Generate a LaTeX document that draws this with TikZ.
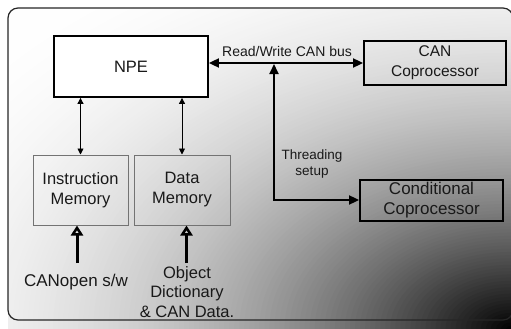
\documentclass[tikz,border=0pt]{standalone}
\usepackage{fontspec}
\setmainfont{Liberation Sans}
\usetikzlibrary{arrows.meta}
\begin{document}
\begin{tikzpicture}[x=1pt,y=-1pt,
  thickbox/.style={draw=black,line width=1.8pt,inner sep=0pt,align=center,text=black!90},
  membox/.style={draw=black!55,line width=1pt,inner sep=0pt,align=center,text=black!90,
    minimum height=70pt,font=\fontsize{16.5}{20}\selectfont},
  lbl/.style={align=center,inner sep=0pt,text=black!90},
  thin arr/.style={line width=0.9pt,{Triangle[length=6pt,width=6pt]}-{Triangle[length=6pt,width=6pt]}},
  bus arr/.style={line width=1.8pt,{Triangle[length=10pt,width=9pt]}-{Triangle[length=10pt,width=9pt]}},
  big arr/.style={line width=3pt,-{Triangle[open,length=10pt,width=12pt]}}]
\useasboundingbox (0,0) rectangle (511,329);
\coordinate (bgc) at (511,329);
\begin{scope}
  \clip[rounded corners=10pt] (8,8) rectangle (513,340);
  \fill[white] (8,8) rectangle (513,340);
  \foreach \i in {140,139,...,1} {
    \pgfmathsetmacro\e{\i/100}
    \pgfmathtruncatemacro\g{255*(1-(max(0.0001,1-\e/1.41))^2.2)}
    \pgfmathsetmacro\rx{503*\e}
    \pgfmathsetmacro\ry{321*\e}
    \definecolor{ringcol}{RGB}{\g,\g,\g}
    \fill[ringcol] (bgc) ellipse[x radius=\rx pt, y radius=\ry pt];
  }
\end{scope}
\draw[line width=1.2pt,black!85,rounded corners=10pt] (8,8) rectangle (513,320);
% boxes
\node[thickbox,fill=white,minimum width=154pt,minimum height=61pt,font=\fontsize{16.5}{20}\selectfont] (npe) at (131,66.5) {NPE};
\node[membox,minimum width=95pt] (ins) at (80.5,190) {Instruction\\Memory};
\node[membox,minimum width=96pt] (dat) at (182,190) {Data\\Memory};
\node[thickbox,minimum width=142pt,minimum height=44pt,font=\fontsize{15.5}{20}\selectfont] (can) at (435,63) {CAN\\Coprocessor};
\node[thickbox,minimum width=143pt,minimum height=41pt,font=\fontsize{17}{20}\selectfont] (cond) at (431.5,200.5) {Conditional\\Coprocessor};
% labels
\node[lbl,font=\fontsize{14}{16}\selectfont] (rw) at (287,51) {Read/Write CAN bus};
\node[lbl,font=\fontsize{13.5}{16}\selectfont] (thr) at (312,164) {Threading\\setup};
\node[lbl,font=\fontsize{17}{20}\selectfont] (cano) at (76,282) {CANopen s/w};
\node[lbl,font=\fontsize{16.5}{19.5}\selectfont] (obj) at (187,292) {Object\\Dictionary\\\& CAN Data.};
% connectors
\draw[thin arr] (ins.north |- npe.south) -- (ins.north);
\draw[thin arr] (dat.north |- npe.south) -- (dat.north);
\draw[bus arr] (npe.east |- can.west) -- (can.west);
\coordinate (bend) at (274,200);
\coordinate (bustop) at (274,64);
\draw[bus arr] (bustop) -- (bend) -- (bend -| cond.west);
\coordinate (a1) at (77,263);
\coordinate (a2) at (186.5,263);
\draw[big arr] (a1) -- (a1 |- ins.south);
\draw[big arr] (a2) -- (a2 |- dat.south);
\end{tikzpicture}
\end{document}
